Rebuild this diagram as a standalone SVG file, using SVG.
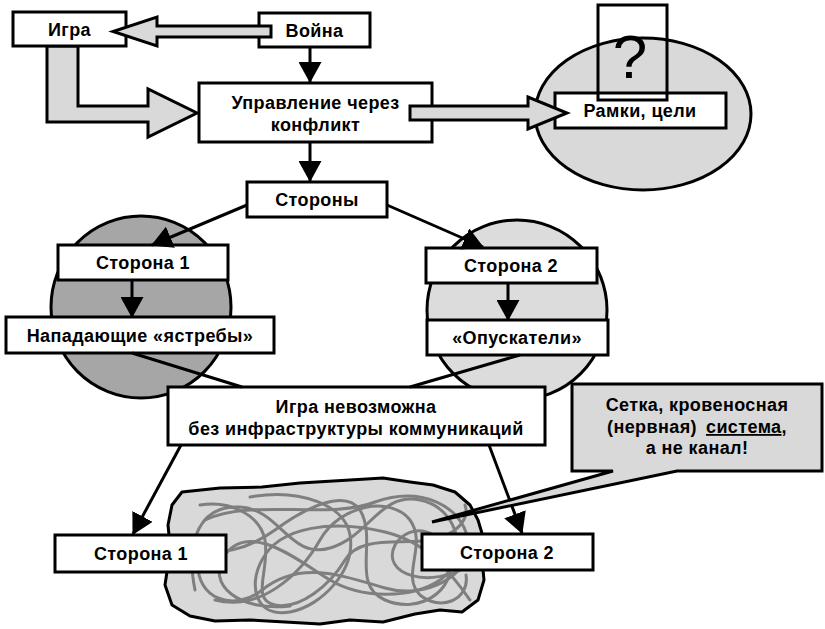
<svg xmlns="http://www.w3.org/2000/svg" width="825" height="629" viewBox="0 0 825 629">
<defs>
<style>
.box{fill:#fff;stroke:#000;stroke-width:3}
.big{fill:#d9d9d9;stroke:#000;stroke-width:3;stroke-linejoin:miter}
.t{font-family:"Liberation Sans",Arial,sans-serif;font-weight:bold;font-size:18px;letter-spacing:0.4px;fill:#000;text-anchor:middle}
.ln{stroke:#000;stroke-width:3;fill:none}
.arr{stroke:#000;stroke-width:3;fill:none;marker-end:url(#ah)}
.tg{fill:none;stroke:#7f7f7f;stroke-width:3;stroke-linecap:round}
</style>
<marker id="ah" markerUnits="userSpaceOnUse" markerWidth="21" markerHeight="23" viewBox="0 0 21 23" refX="20" refY="11.5" orient="auto">
<path d="M0,0 L21,11.5 L0,23 Z" fill="#000"/>
</marker>
</defs>
<rect width="825" height="629" fill="#fff"/>

<g id="circle-left"><ellipse cx="141" cy="307" rx="90" ry="91" fill="#a6a6a6" stroke="#000" stroke-width="3"/></g>
<g id="circle-right"><ellipse cx="517" cy="310" rx="90" ry="90" fill="#dcdcdc" stroke="#000" stroke-width="3"/></g>
<g id="ellipse-goals"><ellipse cx="643" cy="114" rx="108" ry="76" fill="#d9d9d9" stroke="#000" stroke-width="3"/></g>

<g id="network">
<path d="M182,492 L220,488 L262,487 L300,483 L350,480 L383,478 L410,482 L433,485 L455,492 L470,505 L478,520 L484,540 L482,560 L484,580 L478,600 L462,612 L440,610 L415,614 L383,622 L350,620 L320,624 L285,622 L250,620 L215,621 L190,616 L172,605 L165,585 L168,565 L170,545 L168,525 L172,505 Z" fill="#d9d9d9" stroke="#000" stroke-width="3" stroke-linejoin="round"/>
<path class="tg" d="M195,590 C185,540 200,505 240,507 C280,509 290,560 330,548 C370,536 380,492 420,500 C460,508 470,560 440,580 C410,600 360,598 330,580 C300,562 250,520 225,555 C205,585 240,612 290,606"/>
<path class="tg" d="M205,520 C250,498 330,520 375,502 C420,486 462,505 468,540 C474,575 425,600 385,588 C340,575 300,560 262,590 C235,612 195,600 198,560"/>
<path class="tg" d="M250,497 C300,488 345,505 350,535 C356,570 322,606 290,612 C255,618 248,585 262,560 C280,525 335,520 385,532 C430,543 452,575 470,600"/>
<path class="tg" d="M190,545 C215,560 250,548 275,530 C305,508 345,488 360,510 C378,540 350,585 385,600 C420,615 455,590 450,560 C445,530 410,520 395,545 C380,575 430,590 470,565"/>
<path class="tg" d="M215,600 C260,612 300,575 320,540 C340,505 390,495 410,520 C428,545 400,575 420,595 C440,612 470,600 466,575"/>
<path class="tg" d="M200,505 C230,500 260,515 265,540 C270,570 250,600 275,605 C300,610 330,585 345,560 C360,535 400,545 430,540 C455,536 470,520 465,505"/>
</g>

<g id="arrow-game-control"><polygon class="big" points="47,46 47,122 148,122 148,137 197,113 148,89 148,106 78,106 78,46"/></g>

<g id="node-igra"><rect class="box" x="13" y="12" width="113" height="34"/><text class="t" x="69.5" y="35.5">Игра</text></g>
<g id="node-voyna"><rect class="box" x="259" y="13" width="111" height="34"/><text class="t" x="314.5" y="36.5">Война</text></g>
<g id="arrow-war-game"><polygon class="big" points="271,26 157,26 157,17 113,31.5 157,46 157,37 271,37"/></g>
<g id="node-control"><rect class="box" x="199" y="83" width="233" height="59"/><text class="t" x="315.5" y="109">Управление через</text><text class="t" x="315.5" y="131">конфликт</text></g>
<g id="node-ramki"><rect class="box" x="555" y="93" width="171" height="35"/><text class="t" x="640" y="117">Рамки, цели</text></g>
<g id="arrow-control-ramki"><polygon class="big" points="410,106 528,106 528,97 567,113 528,129 528,120 410,120"/></g>
<g id="node-question"><rect x="598" y="5" width="69" height="95" fill="none" stroke="#000" stroke-width="3"/><text x="630" y="78" font-family="Liberation Sans,Arial,sans-serif" font-size="62" text-anchor="middle">?</text></g>
<g id="node-storony"><rect class="box" x="247" y="182" width="140" height="35"/><text class="t" x="317" y="206">Стороны</text></g>
<g id="node-side1"><rect class="box" x="58" y="245" width="170" height="35"/><text class="t" x="143" y="269">Сторона 1</text></g>
<g id="node-hawks"><rect class="box" x="6" y="317" width="268" height="36"/><text class="t" x="140" y="341.5">Нападающие «ястребы»</text></g>
<g id="node-side2"><rect class="box" x="426" y="248" width="171" height="35"/><text class="t" x="511" y="272">Сторона 2</text></g>
<g id="node-lowerers"><rect class="box" x="427" y="320" width="181" height="35"/><text class="t" x="517" y="344">«Опускатели»</text></g>
<g id="node-infra"><rect class="box" x="168" y="387" width="377" height="58"/><text class="t" x="356" y="413">Игра невозможна</text><text class="t" x="356" y="435">без инфраструктуры коммуникаций</text></g>
<g id="node-side1-bottom"><rect class="box" x="55" y="535" width="171" height="37"/><text class="t" x="141" y="560">Сторона 1</text></g>
<g id="node-side2-bottom"><rect class="box" x="422" y="534" width="171" height="36"/><text class="t" x="507" y="558.5">Сторона 2</text></g>

<g id="connectors">
<line class="arr" x1="310" y1="47" x2="310" y2="82"/>
<line class="arr" x1="310" y1="142" x2="310" y2="181"/>
<line class="arr" x1="247" y1="205" x2="152" y2="245"/>
<line class="arr" x1="387" y1="205" x2="483" y2="247"/>
<line class="arr" x1="132" y1="280" x2="132" y2="317"/>
<line class="arr" x1="508" y1="283" x2="508" y2="320"/>
<line class="ln" x1="132" y1="353" x2="242" y2="387"/>
<line class="ln" x1="520" y1="355" x2="410" y2="387"/>
<line class="arr" x1="181" y1="445" x2="133" y2="534"/>
<line class="arr" x1="489" y1="445" x2="522" y2="533"/>
</g>

<g id="callout">
<path d="M572,384 H822 V471 H677 L432,522 L613,471 H572 Z" fill="#d9d9d9" stroke="#000" stroke-width="3" stroke-linejoin="miter"/>
<text class="t" x="697" y="411">Сетка, кровеносная</text>
<text class="t" x="697" y="433">(нервная)<tspan dx="9" text-decoration="underline">система</tspan>,</text>
<text class="t" x="697" y="454">а не канал!</text>
</g>
</svg>
